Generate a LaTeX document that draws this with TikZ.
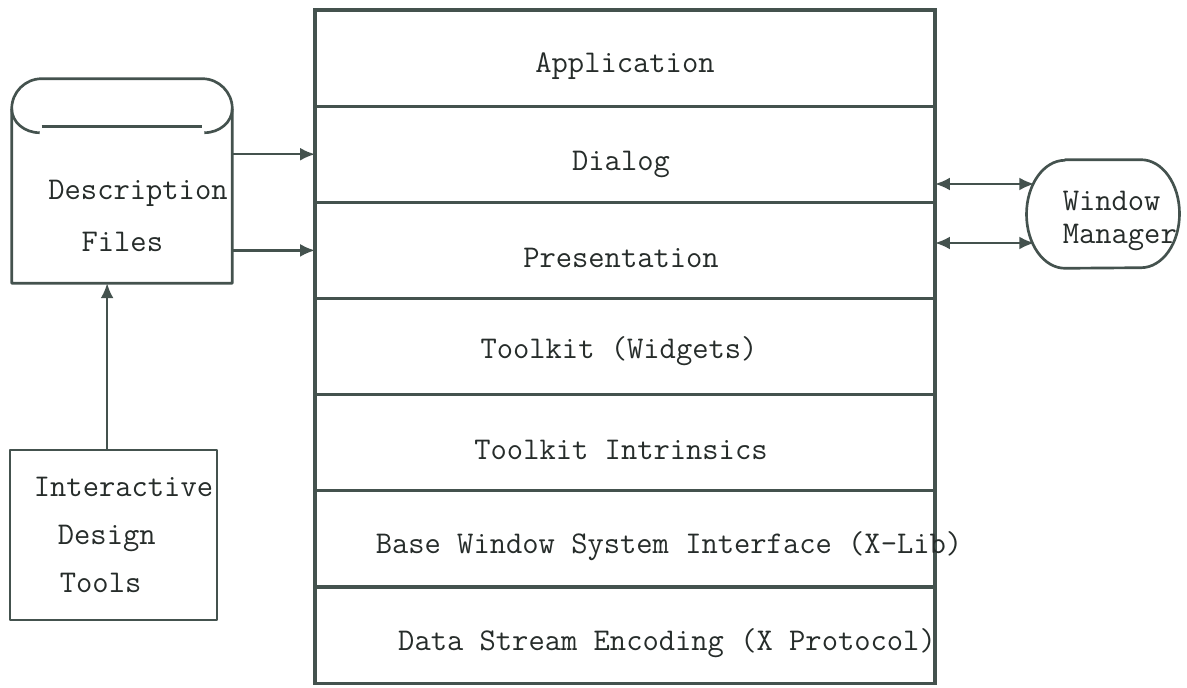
\documentclass[tikz,border=0pt]{standalone}
\usetikzlibrary{positioning,arrows.meta}
\definecolor{inkline}{RGB}{68,82,78}
\definecolor{inktext}{RGB}{38,44,42}
\tikzset{
  tt/.style={font=\fontsize{22.5}{34}\selectfont\ttfamily, text=inktext},
  layer/.style={rectangle, draw=inkline, line width=2.3pt, minimum width=15.5cm, minimum height=2.404cm, inner sep=0pt, outer sep=0pt},
  box/.style={draw=inkline, line width=1.9pt, inner sep=0pt, line join=round},
  flow/.style={draw=inkline, line width=1.6pt, -{Latex[length=0.37cm,width=0.32cm]}},
  both/.style={draw=inkline, line width=1.6pt, {Latex[length=0.37cm,width=0.32cm]}-{Latex[length=0.37cm,width=0.32cm]}},
}
\begin{document}
\begin{tikzpicture}
    \useasboundingbox (0,0) rectangle (29.675,17.175);

    % Layers
    \node[layer, label={[tt, yshift=-0.2cm]center:Application}] (app) at (15.625,15.723) {};
    \node[layer, below=0pt of app, label={[tt, xshift=-0.1cm, yshift=-0.25cm]center:Dialog}] (dialog) {};
    \node[layer, below=0pt of dialog, label={[tt, xshift=-0.1cm, yshift=-0.18cm]center:Presentation}] (pres) {};
    \node[layer, below=0pt of pres, label={[tt, xshift=-0.15cm, yshift=-0.12cm]center:Toolkit (Widgets)}] (widgets) {};
    \node[layer, below=0pt of widgets, label={[tt, xshift=-0.1cm, yshift=-0.17cm]center:Toolkit Intrinsics}] (intrinsics) {};
    \node[layer, below=0pt of intrinsics, label={[tt, xshift=1.1cm, yshift=-0.17cm]center:Base Window System Interface (X-Lib)}] (xlib) {};
    \node[layer, below=0pt of xlib, label={[tt, xshift=1.05cm, yshift=-0.2cm]center:Data Stream Encoding (X Protocol)}] (proto) {};

    % Description Files
    \node[tt, align=left, minimum width=5.5cm, minimum height=3.35cm, inner sep=0pt, font=\fontsize{22.5}{37}\selectfont\ttfamily] (desc) at (3.05,11.775) {\hspace*{0.8cm}Description\\\hspace*{1.63cm}Files};
    \draw[box] (desc.north west) -- (desc.south west) -- (desc.south east) -- (desc.north east)
        -- ++(0,1.0) arc[start angle=0, end angle=90, radius=0.75cm]
        -- ([shift={(0.75cm,1.75cm)}]desc.north west) arc[start angle=90, end angle=180, radius=0.75cm] -- cycle;
    \draw[box] ([yshift=1cm]desc.north west) arc[start angle=180, end angle=270, x radius=0.7cm, y radius=0.6cm];
    \draw[box] ([yshift=1cm]desc.north east) arc[start angle=0, end angle=-90, x radius=0.7cm, y radius=0.6cm];
    \draw[box] ([shift={(0.75cm,0.55cm)}]desc.north west) -- ([shift={(-0.75cm,0.55cm)}]desc.north east);

    % Interactive Design Tools
    \node[box, tt, align=left, minimum width=5.175cm, minimum height=4.25cm] (tools) at (2.8375,3.8) {\hspace*{0.5cm}Interactive\\\hspace*{1.1cm}Design\\\hspace*{1.15cm}Tools};

    % Window Manager
    \node[tt, align=left, minimum width=3.825cm, minimum height=2.7cm, inner sep=0pt, font=\fontsize{22.5}{24}\selectfont\ttfamily] (wm) at (27.575,11.65) {\hspace*{0.84cm}Window\\\hspace*{0.84cm}Manager};
    \draw[box] ([shift={(-0.95cm,0.175cm)}]wm.north) -- ([shift={(0.95cm,0.175cm)}]wm.north)
        arc[start angle=90, end angle=-90, x radius=0.9625cm, y radius=1.35cm]
        -- ([shift={(-0.95cm,0.175cm)}]wm.south)
        arc[start angle=270, end angle=90, x radius=0.9625cm, y radius=1.35cm] -- cycle;

    % Connections
    \draw[flow] ([xshift=-0.16cm]tools.north) -- ([xshift=-0.16cm]tools.north |- desc.south);
    \draw[flow] (desc.east |- dialog.west) -- (dialog.west);
    \draw[flow] (desc.east |- pres.west) -- (pres.west);
    \draw[both] ([yshift=-0.744cm]dialog.east) -- ([yshift=-0.744cm, xshift=0.2cm]dialog.east -| wm.west);
    \draw[both] ([yshift=0.185cm]pres.east) -- ([yshift=0.185cm, xshift=0.2cm]pres.east -| wm.west);
\end{tikzpicture}
\end{document}
